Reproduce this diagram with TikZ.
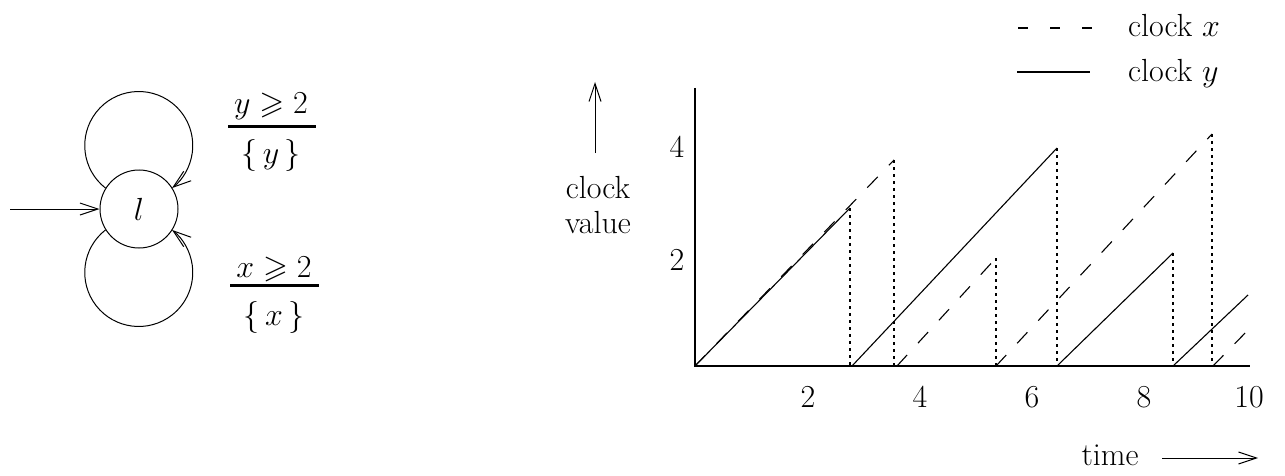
\RequirePackage{fix-cm}
\documentclass[tikz,border=0pt]{standalone}
\usepackage{amsmath,amssymb}
\usetikzlibrary{arrows.meta}
\begin{document}
\begin{tikzpicture}[x=1pt,y=1pt,
  every node/.style={font=\fontsize{32}{35}\selectfont, inner sep=0pt},
  thinline/.style={line width=1pt},
  barb/.style={-{Straight Barb[length=18pt,width=12pt]}},
  clockx/.style={line width=1.1pt, dash pattern=on 15pt off 16pt},
  clocky/.style={line width=1.1pt},
  dropline/.style={line width=1.4pt, dash pattern=on 3pt off 4pt},
  axis/.style={line width=1.3pt},
  fracbar/.style={line width=3pt},
  loc/.style={circle, draw, line width=1pt, minimum size=78pt}]
\useasboundingbox (0,0) rectangle (1285,475);

% ---------- automaton ----------
\node[loc] (l) at (139,266) {$l$};
\coordinate (init) at (10,266);
\draw[thinline,barb] (init) -- (l.west);
\draw[thinline,barb] (l.148) arc[start angle=232,end angle=-52,radius=54];
\draw[thinline,barb] (l.212) arc[start angle=128,end angle=412,radius=54];
% guard / reset labels
\node[anchor=base] (g1n) at (271,362) {$y\geqslant 2$};
\coordinate (g1a) at (228,349);
\coordinate (g1b) at (316,349);
\draw[fracbar] (g1a) -- (g1b);
\node[anchor=base] (g1d) at (271,312) {$\{\,y\,\}$};
\node[anchor=base] (g2n) at (274,198) {$x\geqslant 2$};
\coordinate (g2a) at (230,190);
\coordinate (g2b) at (319,190);
\draw[fracbar] (g2a) -- (g2b);
\node[anchor=base] (g2d) at (274,150) {$\{\,x\,\}$};

% ---------- plot ----------
\coordinate (O) at (695,109);
\coordinate (ytop) at (695,387);
\coordinate (xend) at (1250,109);
\draw[axis] (ytop) -- (O) -- (xend);

% clock y (solid)
\draw[clocky] (695,109) -- (850,267);
\draw[clocky] (852,109) -- (1057,327);
\draw[clocky] (1057,109) -- (1173,222);
\draw[clocky] (1173,109) -- (1248,180);
% clock x (dashed)
\draw[clockx] (695,109) -- (894,315);
\draw[clockx] (897,109) -- (996,217);
\draw[clockx] (996,109) -- (1212,341);
\draw[clockx] (1213,109) -- (1250,147);
% resets (dotted)
\draw[dropline] (850,267) -- (850,109);
\draw[dropline] (894,315) -- (894,109);
\draw[dropline] (996,217) -- (996,109);
\draw[dropline] (1057,327) -- (1057,109);
\draw[dropline] (1173,222) -- (1173,109);
\draw[dropline] (1212,341) -- (1212,109);

% tick labels
\node (y4) at (677,328) {4};
\node (y2) at (677,215) {2};
\node (x2) at (808,78) {2};
\node (x4) at (920,78) {4};
\node (x6) at (1032,78) {6};
\node (x8) at (1144,78) {8};
\node (x10) at (1249,78) {10};

% axis captions
\node[align=center] (cv) at (598,270) {clock\\value};
\coordinate (ca0) at (595,322);
\coordinate (ca1) at (595,393);
\draw[thinline,barb] (ca0) -- (ca1);
\node (time) at (1110,20) {time};
\coordinate (ta0) at (1162,17);
\coordinate (ta1) at (1258,17);
\draw[thinline,barb] (ta0) -- (ta1);

% legend
\coordinate (lx0) at (1018,447);
\coordinate (lx1) at (1092,447);
\draw[line width=1.1pt, dash pattern=on 10pt off 22pt] (lx0) -- (lx1);
\coordinate (ly0) at (1017,403);
\coordinate (ly1) at (1090,403);
\draw[clocky] (ly0) -- (ly1);
\node[anchor=base west] (lxt) at (1128,438) {clock $x$};
\node[anchor=base west] (lyt) at (1128,393) {clock $y$};
\end{tikzpicture}
\end{document}
